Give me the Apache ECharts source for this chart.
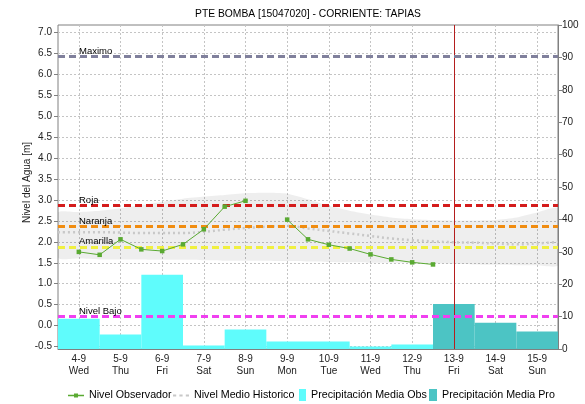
<!DOCTYPE html>
<html>
<head>
<meta charset="utf-8">
<script src="https://cdn.jsdelivr.net/npm/echarts@6/dist/echarts.min.js"></script>
<style>
  html, body { margin: 0; padding: 0; background: #fff; }
  #chart { width: 585px; height: 404px; }
</style>
</head>
<body>
<div id="chart"></div>
<script>
// Days shown on the axis (day-month) and their weekday names
const days = ['4-9', '5-9', '6-9', '7-9', '8-9', '9-9', '10-9', '11-9', '12-9', '13-9', '14-9', '15-9'];
const weekdays = ['Wed', 'Thu', 'Fri', 'Sat', 'Sun', 'Mon', 'Tue', 'Wed', 'Thu', 'Fri', 'Sat', 'Sun'];

// Daily mean precipitation [mm]: observed and forecast
const precipObs = [9.3, 4.5, 22.9, 1.1, 6.0, 2.3, 2.3, 0.8, 1.4, null, null, null];
const precipPro = [null, null, null, null, null, null, null, null, null, 13.9, 8.1, 5.4];

// Observed water level [m], every 12 h (day of September)
const obsDay = [4, 4.5, 5, 5.5, 6, 6.5, 7, 7.5, 8, 8.5, 9, 9.5, 10, 10.5, 11, 11.5, 12, 12.5];
const obsLevel = [1.76, 1.69, 2.06, 1.82, 1.78, 1.94, 2.30, 2.84, 2.98, null, 2.53, 2.06, 1.93, 1.84, 1.70, 1.58, 1.51, 1.46];

// Historic level: mean and min/max envelope (day of September)
const histDay = [3.5, 4, 4.5, 5, 5.5, 6, 6.5, 7, 7.5, 8, 8.5, 9, 9.5, 10, 10.5, 11, 11.5, 12, 12.5, 13, 13.5, 14, 14.5, 15, 15.5];
const histMean = [2.23, 2.23, 2.23, 2.22, 2.21, 2.21, 2.21, 2.24, 2.29, 2.33, 2.36, 2.38, 2.32, 2.26, 2.20, 2.14, 2.08, 2.04, 2.01, 1.99, 1.98, 1.96, 1.94, 1.96, 2.00];
const histMax = [2.70, 2.71, 2.74, 2.80, 2.88, 2.96, 3.03, 3.08, 3.12, 3.16, 3.17, 3.15, 3.02, 2.86, 2.74, 2.65, 2.58, 2.54, 2.52, 2.51, 2.51, 2.52, 2.58, 2.70, 2.80];
const histMin = [1.62, 1.60, 1.58, 1.58, 1.58, 1.57, 1.57, 1.56, 1.55, 1.55, 1.55, 1.54, 1.53, 1.52, 1.51, 1.50, 1.50, 1.49, 1.48, 1.47, 1.46, 1.45, 1.44, 1.44, 1.44];

// Alert thresholds [m]
const thresholdNames = ['Maximo', 'Roja', 'Naranja', 'Amarilla', 'Nivel Bajo'];
const thresholdLevels = [6.43, 2.88, 2.38, 1.88, 0.22];

// Current day marker
const today = '13-9';

// Tick labels
const levelTicks = { min: -0.5, max: 7.0, step: 0.5 };
const precipTicks = { min: 0, max: 100, step: 10 };

const thresholdColors = ['#80809c', '#d41c1c', '#f08c10', '#f0f040', '#f040f0'];
const obsColor = '#5aaa32';
const histColor = '#c8c8c8';

const zip = (xs, ys) => xs.map((x, i) => [x, ys[i]]);
const fontFamily = '"Liberation Sans", Arial, sans-serif';

// One legend block per entry so each icon keeps its own width
function legendBlock(name, left, top, width, icon) {
  return {
    left: left, top: top,
    itemWidth: width, itemHeight: 12, itemGap: 0,
    selectedMode: false,
    textStyle: { fontSize: 10.7, color: '#000', fontFamily: fontFamily },
    data: [{ name: name, icon: icon }]
  };
}

const chart = echarts.init(document.getElementById('chart'), null, { renderer: 'canvas' });

chart.setOption({
  animation: false,
  backgroundColor: '#ffffff',
  textStyle: { fontFamily: fontFamily },
  title: {
    text: 'PTE BOMBA [15047020] - CORRIENTE: TAPIAS',
    left: 303,
    top: 4,
    textAlign: 'center',
    textStyle: { fontSize: 10.3, fontWeight: 'normal', color: '#000', fontFamily: fontFamily }
  },
  legend: [
    legendBlock('Nivel Observador', 63, 385, 16, 'path://M0,5h16v1.4h-16z M6,3.7h4v4h-4z'),
    legendBlock('Nivel Medio Historico', 168, 385, 16, 'path://M0,5h3v2h-3z M6,5h3v2h-3z M12,5h3v2h-3z'),
    legendBlock('Precipitación Media Obs', 294, 384, 7, 'path://M0,0h7v12h-7z'),
    legendBlock('Precipitación Media Pro', 424, 384, 8, 'path://M0,0h8v12h-8z')
  ],
  grid: [
    { left: 58, top: 25, width: 500, height: 324, show: true, borderColor: '#808080', borderWidth: 1 },
    { left: 58, top: 32.5, width: 500, height: 314 }
  ],
  xAxis: [
    {
      type: 'category',
      gridIndex: 0,
      data: days,
      axisLine: { lineStyle: { color: '#808080' } },
      axisTick: { show: false },
      axisLabel: {
        formatter: (v, i) => v + '\n' + weekdays[i],
        fontSize: 10, lineHeight: 12, color: '#222', margin: 4
      },
      splitLine: { show: true, alignWithLabel: true, lineStyle: { color: '#c4c4c4', type: [2, 2] } }
    },
    { type: 'value', gridIndex: 1, min: 3.5, max: 15.5, show: false }
  ],
  yAxis: [
    {
      type: 'value', gridIndex: 0, position: 'right',
      min: precipTicks.min, max: precipTicks.max, interval: precipTicks.step,
      axisLine: { show: true, lineStyle: { color: '#808080' } },
      axisTick: { show: true, length: 4, lineStyle: { color: '#808080' } },
      axisLabel: { fontSize: 10, color: '#222', margin: 4 },
      splitLine: { show: false }
    },
    {
      type: 'value', gridIndex: 1, position: 'left',
      min: levelTicks.min, max: levelTicks.max, interval: levelTicks.step,
      name: 'Nivel del Agua [m]', nameLocation: 'middle', nameGap: 26, nameRotate: 90,
      nameMoveOverlap: false,
      nameTextStyle: { fontSize: 10, color: '#222', fontFamily: fontFamily, padding: [0, 0, 0, 14] },
      axisLine: { show: false },
      axisTick: { show: true, length: 4, lineStyle: { color: '#808080' } },
      axisLabel: { formatter: v => v.toFixed(1), fontSize: 10, color: '#222', margin: 6 },
      splitLine: { show: true, lineStyle: { color: '#c4c4c4', type: [2, 2] } }
    }
  ],
  series: [
    {
      name: 'Precipitación Media Obs', type: 'bar',
      xAxisIndex: 0, yAxisIndex: 0,
      data: precipObs,
      barWidth: '100%', barGap: '-100%', barCategoryGap: '0%',
      itemStyle: { color: '#5ffcfc' }
    },
    {
      name: 'Precipitación Media Pro', type: 'bar',
      xAxisIndex: 0, yAxisIndex: 0,
      data: precipPro,
      barWidth: '100%', barGap: '-100%', barCategoryGap: '0%',
      itemStyle: { color: '#4cc4c4' },
      markLine: {
        silent: true, symbol: 'none', animation: false,
        label: { show: false },
        lineStyle: { color: '#b41e1e', width: 1, type: 'solid' },
        data: [{ xAxis: today }]
      }
    },
    {
      // historic min/max envelope as one filled shape
      name: 'histBand', type: 'custom', xAxisIndex: 1, yAxisIndex: 1,
      silent: true, clip: true, z: 1,
      data: histDay.map((d, i) => [d, histMax[i], histMin[i]]),
      encode: { x: 0, y: [1, 2] },
      renderItem: (params, api) => {
        if (params.dataIndex !== 0) return null;
        const upper = histDay.map((d, i) => api.coord([d, histMax[i]]));
        const lower = histDay.map((d, i) => api.coord([d, histMin[i]])).reverse();
        return {
          type: 'polygon',
          shape: { points: upper.concat(lower), smooth: 0.2 },
          style: { fill: 'rgba(0,0,0,0.065)' }
        };
      }
    },
    {
      name: 'Nivel Medio Historico', type: 'line', xAxisIndex: 1, yAxisIndex: 1,
      data: zip(histDay, histMean), smooth: 0.4,
      symbol: 'none', itemStyle: { color: histColor },
      lineStyle: { color: histColor, width: 2.5, type: [2, 3] },
      markLine: {
        silent: true, symbol: 'none', animation: false,
        data: thresholdLevels.map((v, i) => ({
          yAxis: v,
          lineStyle: { color: thresholdColors[i], width: 3, type: [7, 4] },
          label: {
            show: true, formatter: thresholdNames[i], position: 'insideStartTop',
            distance: [21, 0], color: '#000', fontSize: 9.5, fontFamily: fontFamily
          }
        }))
      }
    },
    {
      name: 'Nivel Observador', type: 'line', xAxisIndex: 1, yAxisIndex: 1,
      data: zip(obsDay, obsLevel), connectNulls: false,
      symbol: 'rect', symbolSize: 4.5, showAllSymbol: true,
      itemStyle: { color: obsColor },
      lineStyle: { color: obsColor, width: 1 },
      z: 5
    }
  ]
});
</script>
</body>
</html>
